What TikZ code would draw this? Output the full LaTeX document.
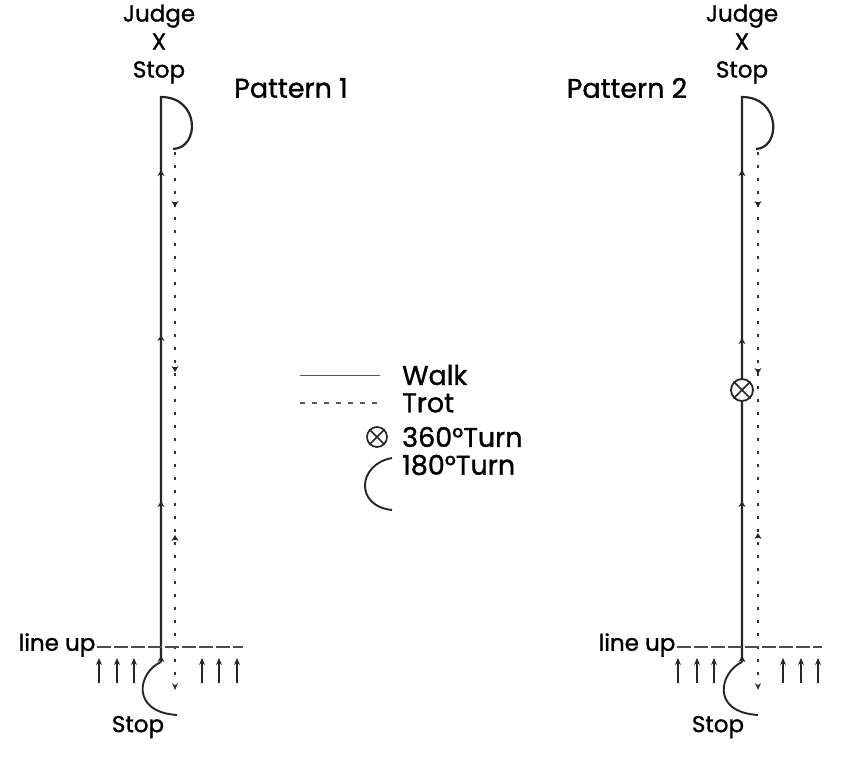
\documentclass[tikz,border=0pt]{standalone}
\usepackage{fontspec}
\setmainfont{Poppins}[FakeBold=1.2]
\usetikzlibrary{arrows.meta}

\begin{document}
\begin{tikzpicture}[
    x=1pt,y=-1pt,
    walk/.style={line width=2.2pt,draw=black!85},
    trot/.style={line width=2.4pt,draw=black!80,dash pattern=on 3pt off 10pt},
    turn/.style={line width=1.9pt,draw=black!85},
    lineup/.style={line width=1.1pt,draw=black!70,dash pattern=on 14pt off 3pt},
    uparrow/.style={-{Stealth[length=7pt,width=6pt]},line width=2pt,draw=black!85},
    dirtip/.style={-{Stealth[length=6pt,width=7pt]},line width=1.6pt,draw=black!85},
    title/.style={inner sep=0pt,font=\fontsize{27}{28}\selectfont},
    lbl/.style={inner sep=0pt,font=\fontsize{23}{28}\selectfont},
    legend/.style={inner sep=0pt,anchor=west,font=\fontsize{27}{28}\selectfont}
]
\useasboundingbox (0,0) rectangle (846,758);

% Pattern 1
\node[lbl,align=center] (judge1) at (159,44) {Judge\\X\\Stop};
\node[title] (pat1) at (291,88) {Pattern 1};
\coordinate (top1) at (161,97);
\coordinate (bot1) at (161,662);
\draw[walk] (bot1) -- (top1) .. controls (200,97) and (200,148) .. (173,149);
\draw[trot,-{Stealth[length=7pt,width=6pt]}] (175,152) -- (175,690);
\foreach \y in {172,337,503} \draw[dirtip] (161,\y+3) -- (161,\y-2);
\foreach \y in {205,370} \draw[dirtip] (175,\y-3) -- (175,\y+2);
\draw[dirtip] (175,540) -- (175,535);
\draw[lineup] (97,647) -- (243,647);
\draw[dirtip] (bot1) -- (161,656);
\draw[turn] (bot1) .. controls (138,672) and (130,712) .. (177,715);
\foreach \x in {99,117,134,202,219,237} \draw[uparrow] (\x,683) -- (\x,658);
\node[lbl] (lineup1) at (57,645) {line up};
\node[lbl] (stop1) at (138,727) {Stop};

% Pattern 2
\node[lbl,align=center] (judge2) at (742,44) {Judge\\X\\Stop};
\node[title] (pat2) at (627,88) {Pattern 2};
\coordinate (top2) at (742,97);
\coordinate (bot2) at (742,662);
\draw[walk] (bot2) -- (top2) .. controls (781,97) and (781,148) .. (756,149);
\draw[trot,-{Stealth[length=7pt,width=6pt]}] (758,152) -- (758,690);
\foreach \y in {172,340,503} \draw[dirtip] (742,\y+3) -- (742,\y-2);
\foreach \y in {205,372} \draw[dirtip] (758,\y-3) -- (758,\y+2);
\draw[dirtip] (758,538) -- (758,533);
\node[circle,draw=black!85,line width=1.8pt,fill=white,minimum size=22pt,inner sep=0pt] (spin2) at (742,390) {};
\draw[line width=1.6pt,draw=black!85] (spin2.north east) -- (spin2.south west)
    (spin2.north west) -- (spin2.south east);
\draw[lineup] (677,647) -- (822,647);
\draw[dirtip] (bot2) -- (742,656);
\draw[turn] (bot2) .. controls (720,672) and (710,712) .. (758,715);
\foreach \x in {678,697,714,783,801,818} \draw[uparrow] (\x,683) -- (\x,658);
\node[lbl] (lineup2) at (637,645) {line up};
\node[lbl] (stop2) at (718,727) {Stop};

% legend
\draw[line width=1pt,draw=black!65] (300,375) -- (380,375);
\node[legend] (walk) at (402,375) {Walk};
\draw[line width=1.3pt,draw=black!65,dash pattern=on 5pt off 7pt] (300,403) -- (380,403);
\node[legend] (trot) at (402,403) {Trot};
\node[circle,draw=black!85,line width=1.7pt,minimum size=20pt,inner sep=0pt] (spin) at (377,437) {};
\draw[line width=1.5pt,draw=black!85] (spin.north east) -- (spin.south west)
    (spin.north west) -- (spin.south east);
\node[legend] (t360) at (402,437) {360°Turn};
\node[legend] (t180) at (402,465) {180°Turn};
\draw[turn] (392,458) .. controls (358,464) and (354,506) .. (392,510);
\end{tikzpicture}
\end{document}
